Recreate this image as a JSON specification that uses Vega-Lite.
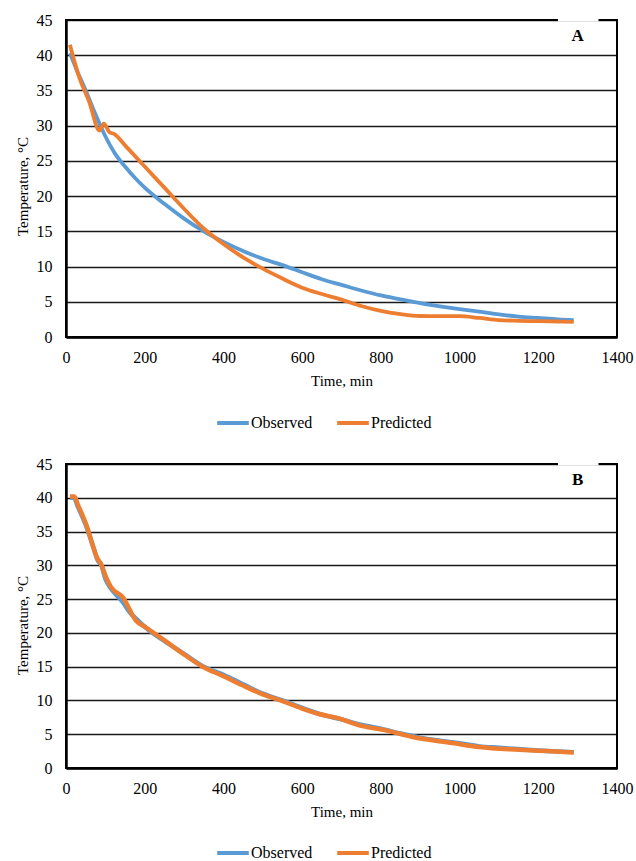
{
  "$schema": "https://vega.github.io/schema/vega-lite/v6.json",
  "padding": {"left": 14, "top": 11, "right": 5, "bottom": 0},
  "background": "white",
  "config": {
    "font": "Liberation Serif",
    "view": {"stroke": "#000", "strokeWidth": 2},
    "axis": {
      "labelFont": "Liberation Serif", "labelFontSize": 16, "labelColor": "#000",
      "titleFont": "Liberation Serif", "titleFontSize": 15, "titleFontWeight": "normal", "titleColor": "#000",
      "domainColor": "#000", "domainWidth": 2.5, "ticks": false, "labelOverlap": false
    },
    "legend": {
      "labelFont": "Liberation Serif", "labelFontSize": 16, "labelColor": "#000"
    },
    "text": {"font": "Liberation Serif"}
  },
  "datasets": {
    "a": [
      {"series": "Observed", "t": 10, "T": 40.3},
      {"series": "Observed", "t": 25, "T": 38.2},
      {"series": "Observed", "t": 50, "T": 35.0},
      {"series": "Observed", "t": 75, "T": 31.6},
      {"series": "Observed", "t": 100, "T": 28.5},
      {"series": "Observed", "t": 125, "T": 26.0},
      {"series": "Observed", "t": 150, "T": 24.2},
      {"series": "Observed", "t": 175, "T": 22.6},
      {"series": "Observed", "t": 200, "T": 21.2},
      {"series": "Observed", "t": 250, "T": 18.9},
      {"series": "Observed", "t": 300, "T": 16.8},
      {"series": "Observed", "t": 350, "T": 15.0},
      {"series": "Observed", "t": 400, "T": 13.5},
      {"series": "Observed", "t": 450, "T": 12.2},
      {"series": "Observed", "t": 500, "T": 11.1},
      {"series": "Observed", "t": 550, "T": 10.2},
      {"series": "Observed", "t": 600, "T": 9.2},
      {"series": "Observed", "t": 650, "T": 8.2},
      {"series": "Observed", "t": 700, "T": 7.4},
      {"series": "Observed", "t": 750, "T": 6.6},
      {"series": "Observed", "t": 800, "T": 5.9},
      {"series": "Observed", "t": 850, "T": 5.35},
      {"series": "Observed", "t": 900, "T": 4.8},
      {"series": "Observed", "t": 950, "T": 4.35},
      {"series": "Observed", "t": 1000, "T": 3.95},
      {"series": "Observed", "t": 1050, "T": 3.6},
      {"series": "Observed", "t": 1100, "T": 3.2},
      {"series": "Observed", "t": 1150, "T": 2.9},
      {"series": "Observed", "t": 1200, "T": 2.7},
      {"series": "Observed", "t": 1250, "T": 2.5},
      {"series": "Observed", "t": 1290, "T": 2.4},
      {"series": "Predicted", "t": 10, "T": 41.5},
      {"series": "Predicted", "t": 34, "T": 36.8},
      {"series": "Predicted", "t": 59, "T": 33.4},
      {"series": "Predicted", "t": 85, "T": 29.3},
      {"series": "Predicted", "t": 96, "T": 30.3},
      {"series": "Predicted", "t": 110, "T": 29.1},
      {"series": "Predicted", "t": 123, "T": 28.8},
      {"series": "Predicted", "t": 150, "T": 27.2},
      {"series": "Predicted", "t": 200, "T": 24.2},
      {"series": "Predicted", "t": 250, "T": 21.2},
      {"series": "Predicted", "t": 300, "T": 18.2},
      {"series": "Predicted", "t": 350, "T": 15.4},
      {"series": "Predicted", "t": 400, "T": 13.2},
      {"series": "Predicted", "t": 450, "T": 11.3},
      {"series": "Predicted", "t": 500, "T": 9.7},
      {"series": "Predicted", "t": 550, "T": 8.3},
      {"series": "Predicted", "t": 600, "T": 7.0},
      {"series": "Predicted", "t": 650, "T": 6.1},
      {"series": "Predicted", "t": 700, "T": 5.3},
      {"series": "Predicted", "t": 750, "T": 4.4},
      {"series": "Predicted", "t": 800, "T": 3.7},
      {"series": "Predicted", "t": 850, "T": 3.25},
      {"series": "Predicted", "t": 900, "T": 2.98},
      {"series": "Predicted", "t": 950, "T": 2.95},
      {"series": "Predicted", "t": 1000, "T": 2.95},
      {"series": "Predicted", "t": 1050, "T": 2.7},
      {"series": "Predicted", "t": 1100, "T": 2.4},
      {"series": "Predicted", "t": 1150, "T": 2.3},
      {"series": "Predicted", "t": 1200, "T": 2.25},
      {"series": "Predicted", "t": 1250, "T": 2.2},
      {"series": "Predicted", "t": 1290, "T": 2.15}
    ],
    "b": [
      {"series": "Observed", "t": 10, "T": 40.0},
      {"series": "Observed", "t": 20, "T": 40.0},
      {"series": "Observed", "t": 30, "T": 38.7},
      {"series": "Observed", "t": 50, "T": 36.0},
      {"series": "Observed", "t": 70, "T": 32.6},
      {"series": "Observed", "t": 80, "T": 30.8},
      {"series": "Observed", "t": 90, "T": 30.0},
      {"series": "Observed", "t": 100, "T": 28.0},
      {"series": "Observed", "t": 115, "T": 26.5},
      {"series": "Observed", "t": 130, "T": 25.5},
      {"series": "Observed", "t": 145, "T": 24.5},
      {"series": "Observed", "t": 160, "T": 23.2},
      {"series": "Observed", "t": 180, "T": 22.0},
      {"series": "Observed", "t": 200, "T": 20.9},
      {"series": "Observed", "t": 250, "T": 18.8},
      {"series": "Observed", "t": 300, "T": 16.9},
      {"series": "Observed", "t": 350, "T": 15.0},
      {"series": "Observed", "t": 400, "T": 13.8},
      {"series": "Observed", "t": 450, "T": 12.4},
      {"series": "Observed", "t": 500, "T": 11.0},
      {"series": "Observed", "t": 550, "T": 10.0},
      {"series": "Observed", "t": 600, "T": 8.9},
      {"series": "Observed", "t": 650, "T": 7.9},
      {"series": "Observed", "t": 700, "T": 7.2},
      {"series": "Observed", "t": 750, "T": 6.4},
      {"series": "Observed", "t": 800, "T": 5.8},
      {"series": "Observed", "t": 850, "T": 5.1},
      {"series": "Observed", "t": 900, "T": 4.5},
      {"series": "Observed", "t": 950, "T": 4.05},
      {"series": "Observed", "t": 1000, "T": 3.65},
      {"series": "Observed", "t": 1050, "T": 3.2},
      {"series": "Observed", "t": 1100, "T": 3.0},
      {"series": "Observed", "t": 1150, "T": 2.8},
      {"series": "Observed", "t": 1200, "T": 2.6},
      {"series": "Observed", "t": 1250, "T": 2.45},
      {"series": "Observed", "t": 1290, "T": 2.35},
      {"series": "Predicted", "t": 10, "T": 40.2},
      {"series": "Predicted", "t": 21, "T": 40.2},
      {"series": "Predicted", "t": 30, "T": 39.0},
      {"series": "Predicted", "t": 51, "T": 36.1},
      {"series": "Predicted", "t": 80, "T": 31.0},
      {"series": "Predicted", "t": 89, "T": 30.2},
      {"series": "Predicted", "t": 102, "T": 28.2},
      {"series": "Predicted", "t": 114, "T": 26.8},
      {"series": "Predicted", "t": 144, "T": 25.3},
      {"series": "Predicted", "t": 178, "T": 21.8},
      {"series": "Predicted", "t": 203, "T": 20.8},
      {"series": "Predicted", "t": 245, "T": 19.1},
      {"series": "Predicted", "t": 300, "T": 16.8},
      {"series": "Predicted", "t": 347, "T": 15.0},
      {"series": "Predicted", "t": 400, "T": 13.6},
      {"series": "Predicted", "t": 450, "T": 12.2},
      {"series": "Predicted", "t": 500, "T": 10.9},
      {"series": "Predicted", "t": 550, "T": 9.9},
      {"series": "Predicted", "t": 600, "T": 8.8},
      {"series": "Predicted", "t": 643, "T": 8.0},
      {"series": "Predicted", "t": 686, "T": 7.45},
      {"series": "Predicted", "t": 754, "T": 6.2},
      {"series": "Predicted", "t": 813, "T": 5.57},
      {"series": "Predicted", "t": 881, "T": 4.58},
      {"series": "Predicted", "t": 982, "T": 3.7},
      {"series": "Predicted", "t": 1050, "T": 3.1},
      {"series": "Predicted", "t": 1152, "T": 2.7},
      {"series": "Predicted", "t": 1220, "T": 2.5},
      {"series": "Predicted", "t": 1290, "T": 2.3}
    ],
    "labA": [{"t": 1300, "T": 42.7, "label": "A"}],
    "labB": [{"t": 1300, "T": 42.7, "label": "B"}],
    "gap": [{"t": 1250, "t2": 1353, "T": 45}]
  },
  "resolve": {"scale": {"color": "independent"}, "legend": {"color": "independent"}},
  "spacing": 127,
  "bounds": "flush",
  "vconcat": [
    {
      "width": 551,
      "height": 317,
      "encoding": {
        "x": {"field": "t", "type": "quantitative", "scale": {"domain": [0, 1400], "nice": false},
              "axis": {"title": "Time, min", "values": [0, 200, 400, 600, 800, 1000, 1200, 1400], "format": "d", "grid": false, "labelPadding": 12, "titlePadding": 8, "labelFlush": false, "labelOverlap": false}},
        "y": {"field": "T", "type": "quantitative", "scale": {"domain": [0, 45], "nice": false},
              "axis": {"title": "Temperature, °C", "values": [0, 5, 10, 15, 20, 25, 30, 35, 40, 45], "grid": true, "gridColor": "#000", "gridWidth": 1.5, "gridOpacity": 0.9, "labelPadding": 14, "titlePadding": 6, "titleY": 166, "labelOverlap": false}}
      },
      "layer": [
        {
          "data": {"name": "a"},
          "mark": {"type": "line", "strokeWidth": 3.8, "interpolate": "monotone"},
          "encoding": {
            "color": {"field": "series", "type": "nominal",
                      "scale": {"domain": ["Observed", "Predicted"], "range": ["#5B9BD5", "#ED7D31"]},
                      "legend": {"title": null, "orient": "none", "direction": "horizontal", "legendX": 149, "legendY": 385,
                                 "symbolType": "stroke", "symbolSize": 1000, "symbolStrokeWidth": 4, "labelOffset": 0, "columnPadding": 16}}
          }
        },
        {
          "data": {"name": "gap"},
          "mark": {"type": "rule", "color": "white", "strokeWidth": 3},
          "encoding": {"x2": {"field": "t2"}}
        },
        {
          "data": {"name": "labA"},
          "mark": {"type": "text", "fontSize": 17, "fontWeight": "bold", "color": "#000"},
          "encoding": {"text": {"field": "label"}}
        }
      ]
    },
    {
      "width": 551,
      "height": 304,
      "encoding": {
        "x": {"field": "t", "type": "quantitative", "scale": {"domain": [0, 1400], "nice": false},
              "axis": {"title": "Time, min", "values": [0, 200, 400, 600, 800, 1000, 1200, 1400], "format": "d", "grid": false, "labelPadding": 12, "titlePadding": 8, "labelFlush": false, "labelOverlap": false}},
        "y": {"field": "T", "type": "quantitative", "scale": {"domain": [0, 45], "nice": false},
              "axis": {"title": "Temperature, °C", "values": [0, 5, 10, 15, 20, 25, 30, 35, 40, 45], "grid": true, "gridColor": "#000", "gridWidth": 1.5, "gridOpacity": 0.9, "labelPadding": 14, "titlePadding": 6, "titleY": 161, "labelOverlap": false}}
      },
      "layer": [
        {
          "data": {"name": "b"},
          "mark": {"type": "line", "strokeWidth": 4.5, "interpolate": "monotone"},
          "encoding": {
            "color": {"field": "series", "type": "nominal",
                      "scale": {"domain": ["Observed", "Predicted"], "range": ["#5B9BD5", "#ED7D31"]},
                      "legend": {"title": null, "orient": "none", "direction": "horizontal", "legendX": 149, "legendY": 371,
                                 "symbolType": "stroke", "symbolSize": 1000, "symbolStrokeWidth": 4, "labelOffset": 0, "columnPadding": 16}}
          }
        },
        {
          "data": {"name": "gap"},
          "mark": {"type": "rule", "color": "white", "strokeWidth": 3},
          "encoding": {"x2": {"field": "t2"}}
        },
        {
          "data": {"name": "labB"},
          "mark": {"type": "text", "fontSize": 17, "fontWeight": "bold", "color": "#000"},
          "encoding": {"text": {"field": "label"}}
        }
      ]
    }
  ]
}
